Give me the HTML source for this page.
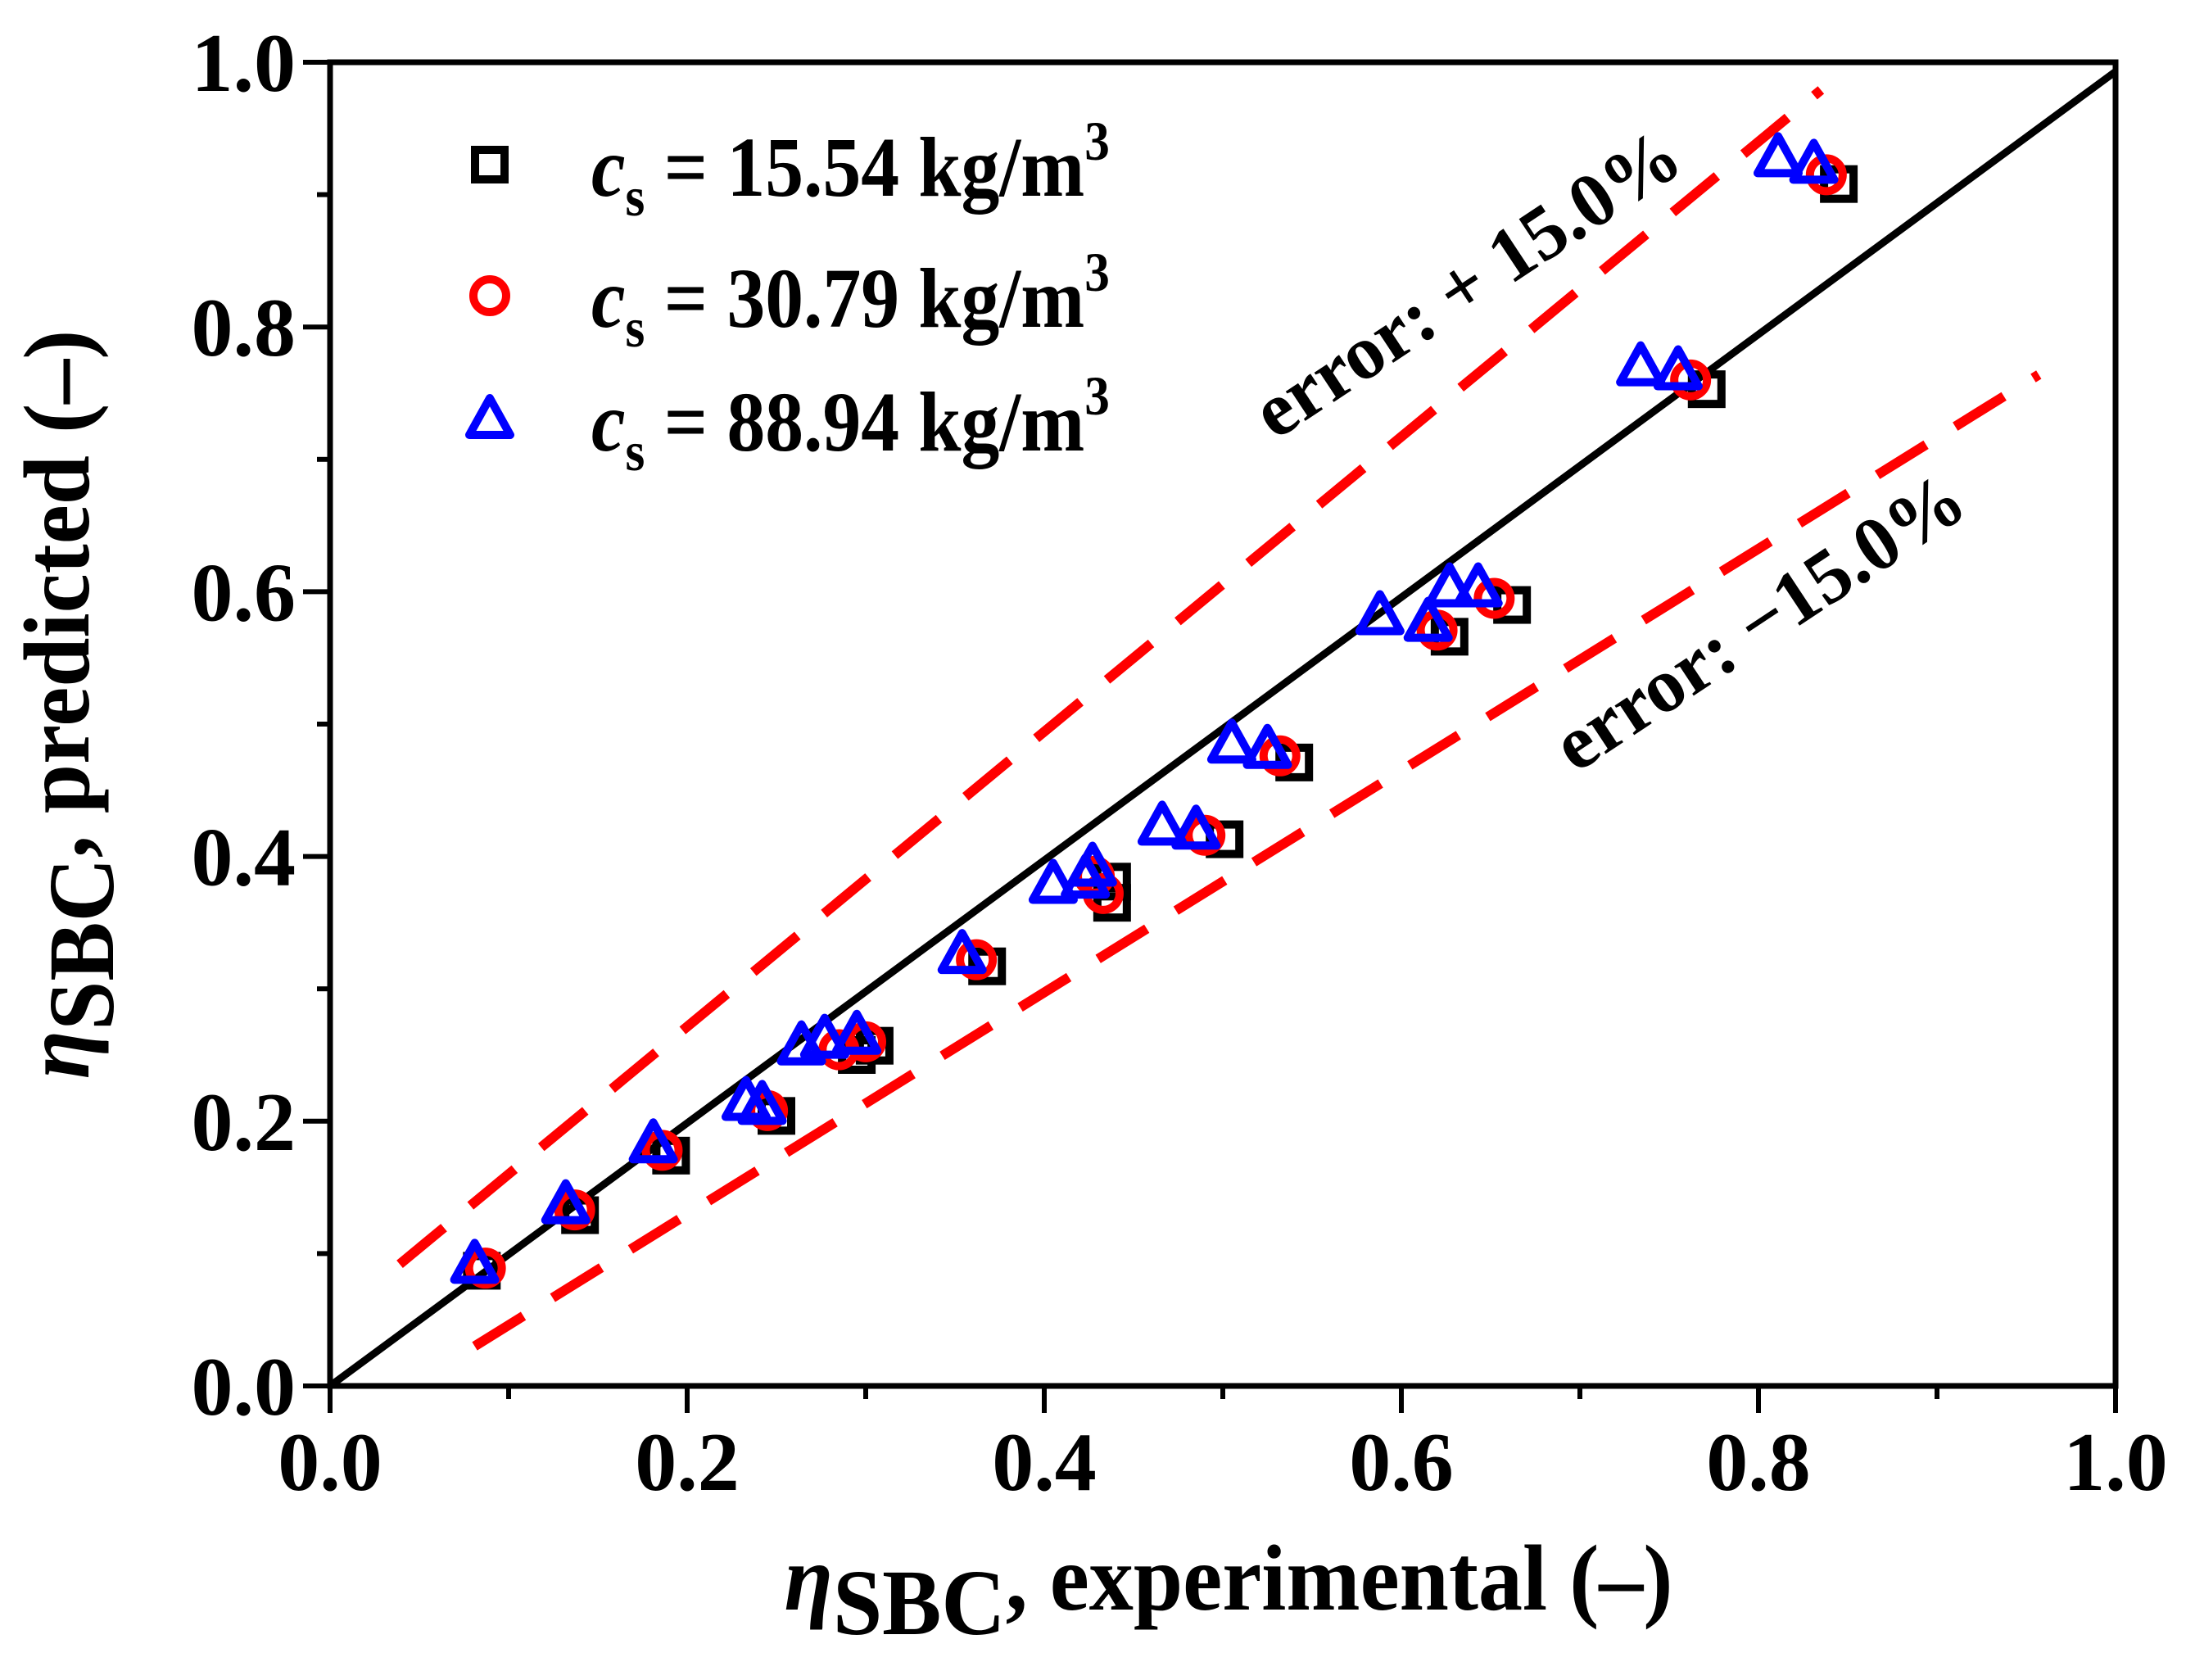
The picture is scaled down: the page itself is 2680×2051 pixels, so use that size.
<!DOCTYPE html>
<html><head><meta charset="utf-8"><style>
html,body{margin:0;padding:0;background:#fff;}
svg{display:block;font-family:"Liberation Serif",serif;font-weight:bold;}
</style></head><body>
<svg id="chart" width="2680" height="2051" viewBox="0 0 2680 2051">
<g id="plot"></g>
</svg>
<script>
const xTicks=[0,0.2,0.4,0.6,0.8,1.0];
const yTicks=[0,0.2,0.4,0.6,0.8,1.0];
const tickLabels=["0.0","0.2","0.4","0.6","0.8","1.0"];
const blackX=[.085,.140,.191,.250,.295,.305,.368,.438,.438,.501,.540,.627,.662,.771,.845];
const blackY=[.087,.129,.174,.204,.250,.257,.317,.381,.365,.413,.471,.566,.590,.753,.908];
const redX=[.087,.137,.186,.245,.285,.300,.362,.428,.433,.490,.532,.620,.652,.762,.838];
const redY=[.089,.133,.178,.208,.254,.260,.322,.385,.372,.416,.476,.571,.595,.760,.915];
const blueX=[.081,.132,.181,.233,.242,.264,.277,.295,.354,.405,.423,.427,.466,.485,.505,.525,.588,.615,.627,.643,.734,.755,.811,.831];
const blueY=[.092,.137,.183,.215,.212,.257,.262,.265,.326,.379,.383,.392,.423,.420,.485,.481,.582,.577,.603,.603,.770,.767,.928,.923];
const upperLine=[[0.039,0.092],[0.835,0.979]];
const lowerLine=[[0.081,0.030],[0.957,0.764]];
const diagLine=[[0,0],[1,0.993]];

const X0=403,X1=2583,Y0=1692,Y1=76;
const sx=v=>X0+v*(X1-X0), sy=v=>Y0-v*(Y0-Y1);
const NS="http://www.w3.org/2000/svg";
const g=document.getElementById('plot');
function mk(t,a,parent){const e=document.createElementNS(NS,t);for(const k in a)e.setAttribute(k,a[k]);(parent||g).appendChild(e);return e;}

const frame=mk('rect',{x:X0,y:Y1,width:X1-X0,height:Y0-Y1,fill:'none',stroke:'#000','stroke-width':7});



for(let i=0;i<=10;i++){
  const v=i/10, major=i%2===0, len=major?33:16;
  const tx=mk('line',{x1:sx(v),x2:sx(v),y1:Y0,y2:Y0+len,stroke:'#000','stroke-width':6});
  
  
  const ty=mk('line',{x1:X0-len,x2:X0,y1:sy(v),y2:sy(v),stroke:'#000','stroke-width':6});
  
  
}
xTicks.forEach((v,i)=>{
  const t=mk('text',{x:sx(v),y:Y0+127,'text-anchor':'middle','font-size':102});
  t.textContent=tickLabels[i];
  
  
});
yTicks.forEach((v,i)=>{
  const t=mk('text',{x:X0-42,y:sy(v)+35,'text-anchor':'end','font-size':102});
  t.textContent=tickLabels[i];
  
  
});

function drawLine(pts,attrs,name){
  const l=mk('line',Object.assign({x1:sx(pts[0][0]),y1:sy(pts[0][1]),x2:sx(pts[1][0]),y2:sy(pts[1][1])},attrs));
  
  
}
drawLine(diagLine,{stroke:'#000','stroke-width':9},'parity-line');
drawLine(upperLine,{stroke:'#f00','stroke-width':12,'stroke-dasharray':'70 42'},'upper-error-line');
drawLine(lowerLine,{stroke:'#f00','stroke-width':12,'stroke-dasharray':'70 42'},'lower-error-line');

function square(cx,cy,name){const s=mk('rect',{x:cx-18,y:cy-18,width:36,height:36,fill:'none',stroke:'#000','stroke-width':10});}
function circle(cx,cy,name){const s=mk('circle',{cx:cx,cy:cy,r:20,fill:'none',stroke:'#f00','stroke-width':10});}
function tri(cx,cy,name){const s=mk('polygon',{points:`${cx},${cy-26} ${cx+25},${cy+19} ${cx-25},${cy+19}`,fill:'none',stroke:'#00f','stroke-width':10,'stroke-linejoin':'round'});}
blackX.forEach((v,i)=>square(sx(v),sy(blackY[i]),'point-15-54'));
redX.forEach((v,i)=>circle(sx(v),sy(redY[i]),'point-30-79'));
blueX.forEach((v,i)=>tri(sx(v),sy(blueY[i]),'point-88-94'));

const legend=[['15.54',square],['30.79',circle],['88.94',tri]];
const legY=[201,361,512];
legend.forEach((e,i)=>{
  e[1](598,legY[i],'legend-marker');
  const t=mk('text',{x:0,y:0,'font-size':104,transform:`translate(722 ${legY[i]+38}) scale(0.9 1)`});
  
  
  t.innerHTML=`<tspan font-style="italic">c</tspan><tspan font-size="68" dy="24">s</tspan><tspan dy="-24"> = ${e[0]} kg/m</tspan><tspan font-size="68" dy="-44">3</tspan>`;
});

const a1=mk('text',{x:1808,y:372,'font-size':94,'text-anchor':'middle',transform:'rotate(-33.5 1808 372)'});
a1.textContent='error: + 15.0%';


const a2=mk('text',{x:2165,y:785,'font-size':94,'text-anchor':'middle',transform:'rotate(-33.5 2165 785)'});
a2.textContent='error: \u221215.0%';



const xt=mk('text',{x:0,y:0,'font-size':114,'text-anchor':'middle',transform:'translate(1500 1965) scale(0.95 1)'});
xt.innerHTML='<tspan font-style="italic">\u03b7</tspan><tspan dy="30">SBC</tspan><tspan dy="-30">, experimental (\u2013)</tspan>';


const yt=mk('text',{x:0,y:0,'font-size':114,'text-anchor':'middle',transform:'translate(108 860) rotate(-90) scale(0.95 1)'});
yt.innerHTML='<tspan font-style="italic">\u03b7</tspan><tspan dy="30">SBC</tspan><tspan dy="-30">, predicted (\u2013)</tspan>';


</script>
</body></html>
